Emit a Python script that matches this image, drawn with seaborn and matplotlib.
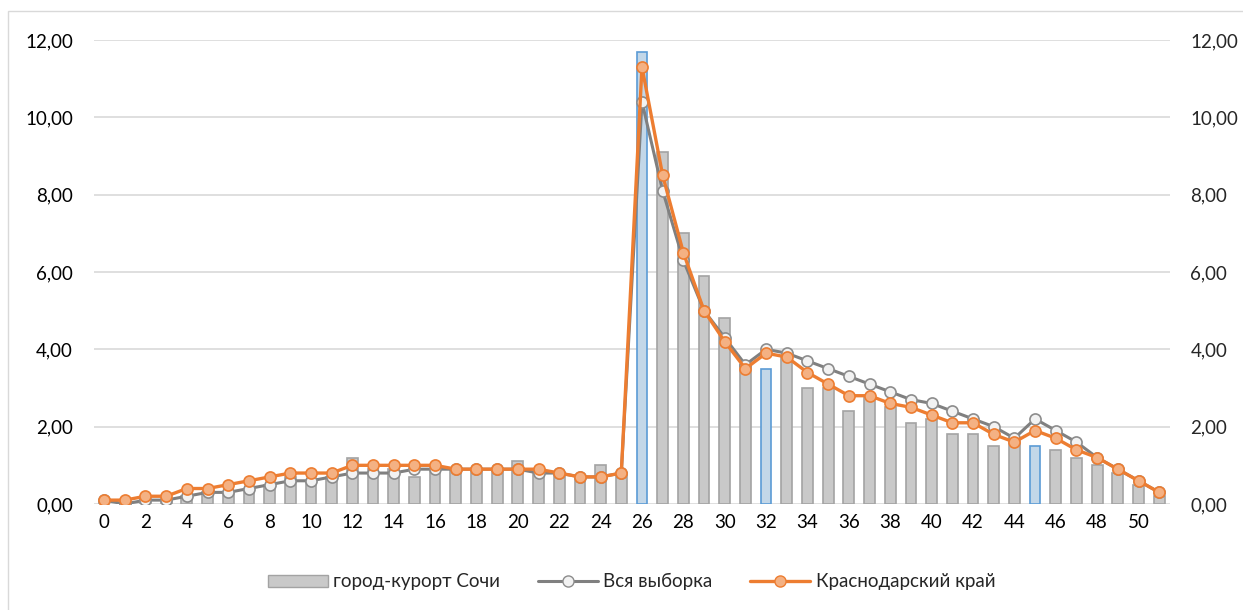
import numpy as np
import pandas as pd
import matplotlib.pyplot as plt
import seaborn as sns
from matplotlib.patches import Patch, Rectangle
from matplotlib.lines import Line2D
from matplotlib.ticker import FuncFormatter


# Data

weeks = list(range(52))

sochi = [0.1, 0.0, 0.1, 0.1, 0.2, 0.3, 0.3, 0.4, 0.5, 0.7, 0.6, 0.7, 1.2, 0.9, 0.9, 0.7,
         0.9, 0.9, 0.9, 0.9, 1.1, 0.8, 0.8, 0.7, 1.0, 0.8,
         11.7, 9.1, 7.0, 5.9, 4.8, 3.6, 3.5, 3.8, 3.0, 3.0, 2.4, 2.8, 2.5, 2.1, 2.2, 1.8,
         1.8, 1.5, 1.6, 1.5, 1.4, 1.2, 1.0, 0.8, 0.5, 0.2]

all_sample = [0.1, 0.0, 0.1, 0.1, 0.2, 0.3, 0.3, 0.4, 0.5, 0.6, 0.6, 0.7, 0.8, 0.8, 0.8, 0.9,
              0.9, 0.9, 0.9, 0.9, 0.9, 0.8, 0.8, 0.7, 0.7, 0.8,
              10.4, 8.1, 6.3, 5.0, 4.3, 3.6, 4.0, 3.9, 3.7, 3.5, 3.3, 3.1, 2.9, 2.7, 2.6, 2.4,
              2.2, 2.0, 1.7, 2.2, 1.9, 1.6, 1.2, 0.9, 0.6, 0.3]

krasnodar = [0.1, 0.1, 0.2, 0.2, 0.4, 0.4, 0.5, 0.6, 0.7, 0.8, 0.8, 0.8, 1.0, 1.0, 1.0, 1.0,
             1.0, 0.9, 0.9, 0.9, 0.9, 0.9, 0.8, 0.7, 0.7, 0.8,
             11.3, 8.5, 6.5, 5.0, 4.2, 3.5, 3.9, 3.8, 3.4, 3.1, 2.8, 2.8, 2.6, 2.5, 2.3, 2.1,
             2.1, 1.8, 1.6, 1.9, 1.7, 1.4, 1.2, 0.9, 0.6, 0.3]

highlight = [26, 32, 45]   # weeks with blue bars

labels = ['город-курорт Сочи', 'Вся выборка', 'Краснодарский край']


df = pd.DataFrame({'week': weeks, 'value': sochi})
df['group'] = np.where(df['week'].isin(highlight), 'hl', 'base')


# Plot

sns.set_style('white')
plt.rcParams['font.family'] = ['Lato', 'DejaVu Sans']
FS = 13.5

fig = plt.figure(figsize=(12.43, 6.10), dpi=100)
ax = fig.add_axes([0.0754, 0.1738, 0.8655, 0.7607])

sns.barplot(data=df, x='week', y='value', hue='group', hue_order=['base', 'hl'],
            palette={'base': '#c9c9c9', 'hl': '#bdd7ee'}, dodge=False, width=0.52,
            legend=False, ax=ax)
edge = {0: '#a3a3a3', 1: '#5b9bd5'}
for i, cont in enumerate(ax.containers):
    for bar in cont:
        bar.set_edgecolor(edge[i])
        bar.set_linewidth(1.2)

sns.lineplot(x=weeks, y=all_sample, color='#808080', lw=2.2, marker='o', markersize=8,
             markerfacecolor='#f2f2f2', markeredgecolor='#8c8c8c', markeredgewidth=1.2, ax=ax)
sns.lineplot(x=weeks, y=krasnodar, color='#ed7d31', lw=2.4, marker='o', markersize=8,
             markerfacecolor='#f4b183', markeredgecolor='#ed7d31', markeredgewidth=1.2, ax=ax)

fmt = FuncFormatter(lambda v, p: f'{v:.2f}'.replace('.', ','))

ax.set_xlim(-0.5, 51.5)
ax.set_ylim(0, 12)
ax.set_yticks(range(0, 13, 2))
ax.yaxis.set_major_formatter(fmt)
ax.set_xticks(range(0, 52, 2))
ax.set_xticklabels([str(w) for w in range(0, 52, 2)])
ax.set_xlabel('')
ax.set_ylabel('')
ax.grid(axis='y', color='#d9d9d9', lw=1.2)
ax.set_axisbelow(True)
ax.tick_params(length=0, labelsize=FS, colors='black')
ax.tick_params(axis='y', pad=15)
ax.tick_params(axis='x', pad=7)
sns.despine(ax=ax, left=True, bottom=True)

ax2 = ax.twinx()
ax2.set_ylim(0, 12)
ax2.set_yticks(range(0, 13, 2))
ax2.yaxis.set_major_formatter(fmt)
ax2.tick_params(length=0, labelsize=FS, pad=15)
for s in ax2.spines.values():
    s.set_visible(False)

handles = [
    Patch(facecolor='#c9c9c9', edgecolor='#a3a3a3'),
    Line2D([], [], color='#808080', lw=2.2, marker='o', markersize=8,
           markerfacecolor='#f2f2f2', markeredgecolor='#8c8c8c'),
    Line2D([], [], color='#ed7d31', lw=2.4, marker='o', markersize=8,
           markerfacecolor='#f4b183', markeredgecolor='#ed7d31'),
]
fig.legend(handles, labels, loc='center', bbox_to_anchor=(0.508, 0.046), ncol=3,
           frameon=False, fontsize=FS, handlelength=3.2, handleheight=0.55,
           columnspacing=2.0, handletextpad=0.3)

fig.patches.append(Rectangle((8 / 1243, -0.1), 1.1, (610 - 11) / 610 + 0.1,
                             transform=fig.transFigure, fill=False,
                             edgecolor='#d9d9d9', lw=1))

fig.savefig('out.png', dpi=100)
